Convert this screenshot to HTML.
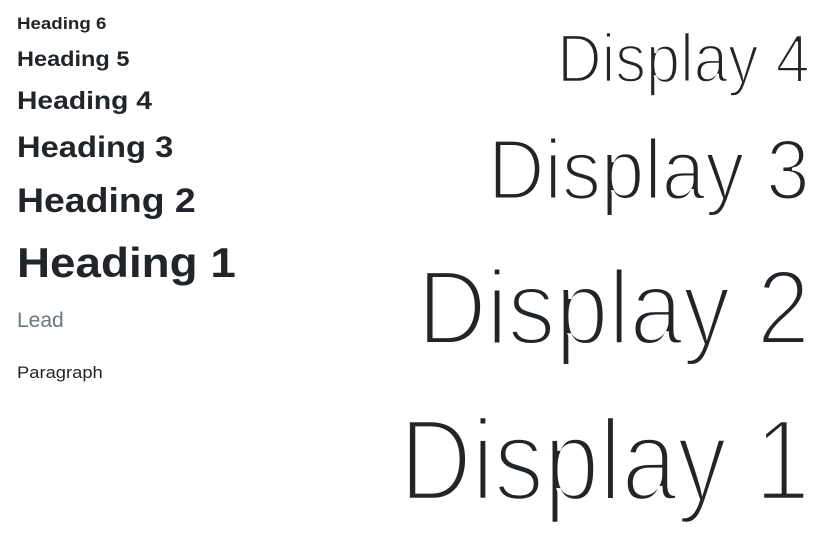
<!DOCTYPE html>
<html><head><meta charset="utf-8"><style>
html,body{margin:0;padding:0;background:#fff;}
body{width:822px;height:538px;position:relative;overflow:hidden;font-family:"Liberation Sans","DejaVu Sans",sans-serif;color:#212529;}
.t{position:absolute;line-height:1;white-space:nowrap;}
.l{left:17px;transform-origin:left center;font-weight:bold;}
.r{right:12px;transform-origin:right center;font-weight:300;paint-order:normal;}
</style></head><body>
<div class="t l" style="font-size:17px;top:15px;transform:scaleX(1.1)">Heading 6</div>
<div class="t l" style="font-size:21px;top:49px;transform:scaleX(1.12)">Heading 5</div>
<div class="t l" style="font-size:25px;top:89px;transform:scaleX(1.13)">Heading 4</div>
<div class="t l" style="font-size:30px;top:133px;transform:scaleX(1.09)">Heading 3</div>
<div class="t l" style="font-size:34px;top:184px;transform:scaleX(1.1)">Heading 2</div>
<div class="t l" style="font-size:42px;top:242px;transform:scaleX(1.09)">Heading 1</div>
<div class="t" style="left:17px;font-size:21px;top:310px;color:#6c757d;">Lead</div>
<div class="t" style="left:17px;font-size:17px;top:364px;transform:scaleX(1.08);transform-origin:left center;">Paragraph</div>
<div class="t r" style="font-size:69px;top:24px;transform:scaleX(0.89);-webkit-text-stroke:2.5px #fff;">Display 4</div>
<div class="t r" style="font-size:85px;top:128px;transform:scaleX(0.92);-webkit-text-stroke:3px #fff;">Display 3</div>
<div class="t r" style="font-size:106px;top:255px;transform:scaleX(0.9);-webkit-text-stroke:4px #fff;">Display 2</div>
<div class="t r" style="font-size:116px;top:402px;transform:scaleX(0.86);-webkit-text-stroke:4.5px #fff;">Display 1</div>
</body></html>
